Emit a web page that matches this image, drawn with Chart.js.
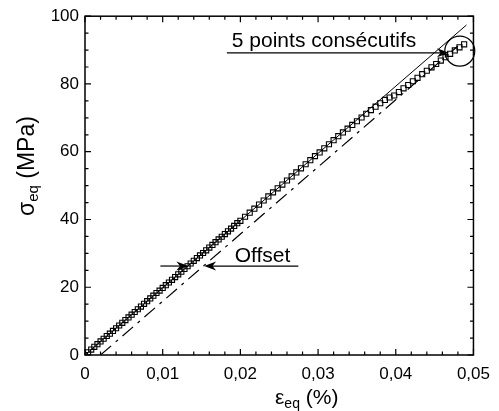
<!DOCTYPE html>
<html>
<head>
<meta charset="utf-8">
<script src="https://cdn.jsdelivr.net/npm/chart.js@4"></script>
<style>
  body { margin: 0; background: #fff; }
  #wrap { width: 499px; height: 411px; }
</style>
</head>
<body>
<div id="wrap"><canvas id="chart" width="499" height="411"></canvas></div>
<script>
// measured points (strain in %, stress in MPa)
const strain = [
  0, 0.0004, 0.0008, 0.0012, 0.0016, 0.002, 0.0024, 0.0028, 0.0032, 0.0036,
  0.004, 0.0044, 0.0048, 0.0052, 0.0056, 0.006, 0.0064, 0.0068, 0.0072, 0.0076,
  0.008, 0.0084, 0.0088, 0.0092, 0.0096, 0.01, 0.0104, 0.0108, 0.0112, 0.0116,
  0.012, 0.0124, 0.0128, 0.0132, 0.0136, 0.014, 0.0144, 0.0148, 0.0152, 0.0156,
  0.016, 0.0164, 0.0168, 0.0172, 0.0176, 0.018, 0.0184, 0.0188, 0.0192, 0.0196,
  0.02, 0.0206, 0.0212, 0.0218, 0.0224, 0.023, 0.0236, 0.0242, 0.0248, 0.0254,
  0.026, 0.0266, 0.0272, 0.0278, 0.0284, 0.029, 0.0296, 0.0302, 0.0308, 0.0314,
  0.032, 0.0326, 0.0332, 0.0338, 0.0344, 0.035, 0.0356, 0.0362, 0.0368, 0.0374,
  0.038, 0.0386, 0.0392, 0.0398, 0.0404, 0.041, 0.0416, 0.0422, 0.0428, 0.0434,
  0.044, 0.0446, 0.0452, 0.0458, 0.0464, 0.047, 0.0476, 0.0482, 0.0488
];
const stress = [
  0, 0.8, 1.6, 2.4, 3.2, 4.0, 4.8, 5.6, 6.3, 7.1,
  7.9, 8.7, 9.5, 10.3, 11.1, 11.9, 12.7, 13.5, 14.3, 15.1,
  15.9, 16.7, 17.5, 18.3, 19.0, 19.8, 20.6, 21.4, 22.2, 23.0,
  23.8, 24.6, 25.4, 26.2, 27.0, 27.8, 28.6, 29.4, 30.1, 30.9,
  31.7, 32.5, 33.3, 34.1, 34.9, 35.7, 36.5, 37.3, 38.1, 38.9,
  39.6, 40.8, 42.0, 43.2, 44.4, 45.6, 46.8, 48.0, 49.2, 50.3,
  51.5, 52.7, 53.9, 55.1, 56.3, 57.5, 58.7, 59.8, 61.0, 62.2,
  63.4, 64.6, 65.7, 66.8, 67.9, 69.0, 70.1, 71.2, 72.3, 73.3,
  74.3, 75.3, 76.0, 76.6, 77.6, 78.7, 79.7, 80.8, 81.8, 82.9,
  83.9, 84.9, 85.9, 86.9, 87.9, 88.9, 89.9, 90.8, 91.7
];

// elastic line and 0.002 % offset line (end points)
const elasticX = [0, 0.0491];
const elasticY = [0, 97.4];
const offsetX = [0.002, 0.048];
const offsetY = [0, 91.2];

const xTicks = [0, 0.01, 0.02, 0.03, 0.04, 0.05];
const xTickLabels = ["0", "0,01", "0,02", "0,03", "0,04", "0,05"];
const yTicks = [0, 20, 40, 60, 80, 100];

const FONT = "Arial, 'Liberation Sans', sans-serif";

function pts(xs, ys) {
  return xs.map((x, i) => ({ x: x, y: ys[i] }));
}

function arrow(ctx, x1, y1, x2, y2) {
  const a = Math.atan2(y2 - y1, x2 - x1);
  const len = 12, hw = 4.5;
  ctx.beginPath();
  ctx.moveTo(x1, y1);
  ctx.lineTo(x2 - Math.cos(a) * 6, y2 - Math.sin(a) * 6);
  ctx.stroke();
  ctx.save();
  ctx.translate(x2, y2);
  ctx.rotate(a);
  ctx.beginPath();
  ctx.moveTo(0, 0);
  ctx.lineTo(-len, -hw);
  ctx.lineTo(-len * 0.7, 0);
  ctx.lineTo(-len, hw);
  ctx.closePath();
  ctx.fill();
  ctx.restore();
}

const decor = {
  id: "decor",
  afterDraw(chart) {
    const ctx = chart.ctx;
    const xs = chart.scales.x, ys = chart.scales.y;
    const a = chart.chartArea;
    ctx.save();
    ctx.strokeStyle = "#000";
    ctx.fillStyle = "#000";

    // frame
    ctx.lineWidth = 1.5;
    ctx.strokeRect(a.left, a.top, a.right - a.left, a.bottom - a.top);

    // inward ticks on all four sides
    ctx.lineWidth = 1.2;
    ctx.beginPath();
    for (let i = 0; i <= 25; i++) {
      const px = xs.getPixelForValue(i * 0.002);
      const l = i % 5 === 0 ? 6 : 3.5;
      ctx.moveTo(px, a.bottom); ctx.lineTo(px, a.bottom - l);
      ctx.moveTo(px, a.top); ctx.lineTo(px, a.top + l);
    }
    for (let i = 0; i <= 20; i++) {
      const py = ys.getPixelForValue(i * 5);
      const l = i % 4 === 0 ? 6 : 3.5;
      ctx.moveTo(a.left, py); ctx.lineTo(a.left + l, py);
      ctx.moveTo(a.right, py); ctx.lineTo(a.right - l, py);
    }
    ctx.stroke();

    // axis titles with subscripts
    ctx.textBaseline = "alphabetic";
    ctx.textAlign = "left";
    let big = "21px " + FONT, small = "14px " + FONT;
    // x title
    let x = 275, y = 404;
    ctx.font = big; ctx.fillText("\u03b5", x, y); x += ctx.measureText("\u03b5").width;
    ctx.font = small; ctx.fillText("eq", x, y + 4); x += ctx.measureText("eq").width;
    ctx.font = big; ctx.fillText(" (%)", x, y);
    // y title
    big = "23px " + FONT; small = "15px " + FONT;
    ctx.save();
    ctx.translate(34, 216);
    ctx.rotate(-Math.PI / 2);
    x = 0; y = 0;
    ctx.font = big; ctx.fillText("\u03c3", x, y); x += ctx.measureText("\u03c3").width;
    ctx.font = small; ctx.fillText("eq", x, y + 4); x += ctx.measureText("eq").width;
    ctx.font = big; ctx.fillText(" (MPa)", x, y);
    ctx.restore();

    // annotations
    ctx.lineWidth = 1.2;
    ctx.font = "21px " + FONT;
    ctx.fillText("5 points cons\u00e9cutifs", xs.getPixelForValue(0.0189), ys.getPixelForValue(91.0));
    arrow(ctx, xs.getPixelForValue(0.01826), ys.getPixelForValue(89.2),
               xs.getPixelForValue(0.04685), ys.getPixelForValue(89.2));
    ctx.beginPath();
    ctx.arc(xs.getPixelForValue(0.04824), ys.getPixelForValue(89.7), 15, 0, Math.PI * 2);
    ctx.stroke();

    ctx.fillText("Offset", xs.getPixelForValue(0.01927), ys.getPixelForValue(27.4));
    arrow(ctx, xs.getPixelForValue(0.0097), ys.getPixelForValue(26.26),
               xs.getPixelForValue(0.01331), ys.getPixelForValue(26.26));
    arrow(ctx, xs.getPixelForValue(0.02746), ys.getPixelForValue(26.26),
               xs.getPixelForValue(0.01533), ys.getPixelForValue(26.26));
    ctx.restore();
  }
};

new Chart(document.getElementById("chart"), {
  type: "scatter",
  data: {
    datasets: [
      {
        label: "mesures",
        data: pts(strain, stress),
        pointStyle: "rect",
        pointRadius: 3.6,
        pointBorderWidth: 1.1,
        borderColor: "#000",
        backgroundColor: "rgba(255,255,255,0)",
        showLine: false,
        order: 0
      },
      {
        label: "droite elastique",
        data: pts(elasticX, elasticY),
        showLine: true,
        pointRadius: 0,
        borderColor: "#000",
        borderWidth: 1,
        order: 1
      },
      {
        label: "offset",
        data: pts(offsetX, offsetY),
        showLine: true,
        pointRadius: 0,
        borderColor: "#000",
        borderWidth: 1.2,
        borderDash: [14, 6, 3, 6],
        order: 2
      }
    ]
  },
  options: {
    responsive: false,
    animation: false,
    layout: { padding: { left: 0, top: 15, right: 17, bottom: 0 } },
    plugins: { legend: { display: false }, tooltip: { enabled: false } },
    scales: {
      x: {
        type: "linear",
        min: 0, max: 0.05,
        afterBuildTicks: s => { s.ticks = xTicks.map(v => ({ value: v })); },
        afterFit: s => { s.height = 56; },
        grid: { display: false, drawTicks: false },
        border: { display: false },
        ticks: {
          autoSkip: false, maxRotation: 0, padding: 9, color: "#000",
          font: { family: FONT, size: 17 },
          callback: v => xTickLabels[xTicks.indexOf(v)]
        }
      },
      y: {
        type: "linear",
        min: 0, max: 100,
        afterBuildTicks: s => { s.ticks = yTicks.map(v => ({ value: v })); },
        afterFit: s => { s.width = 85; },
        grid: { display: false, drawTicks: false },
        border: { display: false },
        ticks: {
          autoSkip: false, padding: 6, color: "#000",
          font: { family: FONT, size: 17 }
        }
      }
    }
  },
  plugins: [decor]
});
</script>
</body>
</html>
